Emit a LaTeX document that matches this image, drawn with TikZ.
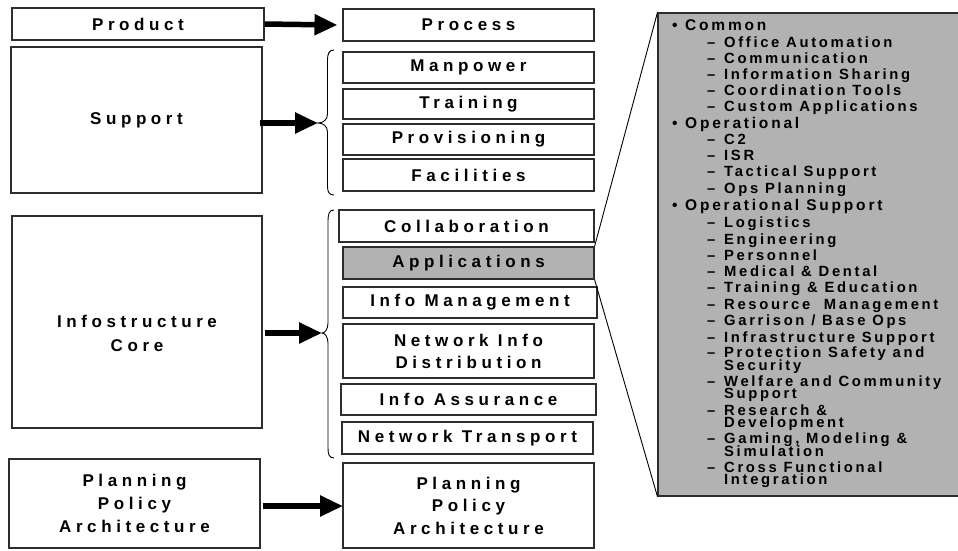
\documentclass[tikz,border=0pt]{standalone}
\usepackage{fontspec}
\setmainfont{Liberation Sans}
\newfontfamily\boxfont{Liberation Sans}[LetterSpace=27]
\newfontfamily\listfont{Liberation Sans}[LetterSpace=18]
\usetikzlibrary{arrows.meta}

\definecolor{panelgray}{RGB}{178,178,178}
\definecolor{edge}{RGB}{45,45,45}

\begin{document}
\begin{tikzpicture}[x=1pt,y=-1pt,
  box/.style={draw=edge, line width=1.1pt, fill=white, inner sep=0pt,
    align=center, font={\boxfont\fontsize{17}{23}\selectfont\bfseries}},
  shaded/.style={box, fill=panelgray},
  boxtext/.style={inner sep=0pt, align=center,
    font={\boxfont\fontsize{17}{24}\selectfont\bfseries}},
  bigarrow/.style={line width=5.5pt, -{Triangle[length=23pt,width=20pt]}},
  bracket/.style={line width=0.9pt, black},
  link/.style={line width=0.9pt, black},
  top/.style={anchor=base west, inner sep=0pt,
    font={\listfont\fontsize{15.5}{15}\selectfont\bfseries}},
  sub/.style={anchor=base west, inner sep=0pt,
    font={\listfont\fontsize{14.8}{14}\selectfont\bfseries}}]
\useasboundingbox (0,0) rectangle (958,550);

% left column
\node[box, minimum width=252pt, minimum height=32pt] (product) at (138,24) {Product};
\node[box, minimum width=251pt, minimum height=146pt] (support) at (136.5,120) {Support};
\node[box, minimum width=250pt, minimum height=212pt] (infra) at (137,322) {};
\node[boxtext] (infratext) at (137,333.5) {Infostructure\\Core};
\node[box, minimum width=251pt, minimum height=89pt] (planL) at (134.5,503.5) {Planning\\Policy\\Architecture};

% middle column
\node[box, minimum width=251pt, minimum height=32pt] (process) at (468.5,25) {Process};
\node[box, minimum width=251pt, minimum height=31pt] (manpower) at (468.5,67.5) {Manpower};
\node[box, minimum width=251pt, minimum height=30pt] (training) at (468.5,104) {Training};
\node[box, minimum width=251pt, minimum height=31pt] (provisioning) at (468.5,139.5) {Provisioning};
\node[box, minimum width=251pt, minimum height=32pt] (facilities) at (468.5,175) {Facilities};
\node[box, minimum width=255pt, minimum height=32pt] (collab) at (466.5,226) {Collaboration};
\node[shaded, minimum width=251pt, minimum height=32pt] (apps) at (468.5,263) {Applications};
\node[box, minimum width=254pt, minimum height=31pt] (infomgmt) at (470,302.5) {Info Management};
\node[box, minimum width=251pt, minimum height=54pt, font={\boxfont\fontsize{17}{22}\selectfont\bfseries}] (netinfo) at (468.5,351) {Network Info\\Distribution};
\node[box, minimum width=255pt, minimum height=31pt] (assurance) at (468.5,399.5) {Info Assurance};
\node[box, minimum width=251pt, minimum height=32pt] (transport) at (467.5,438) {Network Transport};
\node[box, minimum width=251pt, minimum height=85pt, font={\boxfont\fontsize{17}{22.5}\selectfont\bfseries}] (planR) at (468.5,505.5) {Planning\\Policy\\Architecture};

% curly brackets grouping the middle boxes
\coordinate (tipA) at (318,123);
\coordinate (tipB) at (322,333);
\coordinate (tipC) at (343,506);
\draw[bracket] (334,50) .. controls (329,50) and (327.5,54) .. (327.5,60)
  -- (327.5,114) .. controls (327.5,120) and (323,123) .. (tipA)
  .. controls (323,123) and (327.5,126) .. (327.5,132)
  -- (327.5,186) .. controls (327.5,192) and (329,195) .. (334,195);
\draw[bracket] (334,210) .. controls (329,210) and (328,214) .. (328,222)
  -- (328,323) .. controls (328,329) and (325,333) .. (tipB)
  .. controls (325,333) and (328,337) .. (328,343)
  -- (328,448) .. controls (328,454) and (329,458) .. (334,458);

% arrows
\draw[bigarrow] (product.east) -- ([xshift=-5pt]process.west);
\draw[bigarrow] (support.east |- tipA) ++(-3,0) -- (tipA);
\draw[bigarrow] (infra.east |- tipB) ++(2,0) -- (tipB);
\draw[bigarrow] (planL.east |- tipC) ++(2,0) -- (tipC);

% detail panel for the applications
\node[draw=edge, line width=1.1pt, fill=panelgray, minimum width=306pt, minimum height=483pt, inner sep=0pt] (panel) at (811,254.5) {};
\draw[link] (apps.north east) -- (panel.north west);
\draw[link] (apps.south east) -- (panel.south west);

% application list
\node[top] (c0) at (672,30.5) {\makebox[13pt][l]{•}Common};
\node[sub] (c1) at (707,47) {\makebox[17pt][l]{–}Office Automation};
\node[sub] (c2) at (707,63) {\makebox[17pt][l]{–}Communication};
\node[sub] (c3) at (707,79) {\makebox[17pt][l]{–}Information Sharing};
\node[sub] (c4) at (707,95) {\makebox[17pt][l]{–}Coordination Tools};
\node[sub] (c5) at (707,111) {\makebox[17pt][l]{–}Custom Applications};
\node[top] (o0) at (672,128) {\makebox[13pt][l]{•}Operational};
\node[sub] (o1) at (707,144) {\makebox[17pt][l]{–}C2};
\node[sub] (o2) at (707,160) {\makebox[17pt][l]{–}ISR};
\node[sub] (o3) at (707,176.5) {\makebox[17pt][l]{–}Tactical Support};
\node[sub] (o4) at (707,193) {\makebox[17pt][l]{–}Ops Planning};
\node[top] (s0) at (672,210) {\makebox[13pt][l]{•}Operational Support};
\node[sub] (s1) at (707,227) {\makebox[17pt][l]{–}Logistics};
\node[sub] (s2) at (707,244) {\makebox[17pt][l]{–}Engineering};
\node[sub] (s3) at (707,260) {\makebox[17pt][l]{–}Personnel};
\node[sub] (s4) at (707,276) {\makebox[17pt][l]{–}Medical \& Dental};
\node[sub] (s5) at (707,292) {\makebox[17pt][l]{–}Training \& Education};
\node[sub] (s6) at (707,309) {\makebox[17pt][l]{–}Resource \ Management};
\node[sub] (s7) at (707,325.5) {\makebox[17pt][l]{–}Garrison / Base Ops};
\node[sub] (s8) at (707,342) {\makebox[17pt][l]{–}Infrastructure Support};
\node[sub] (s9) at (707,357.5) {\makebox[17pt][l]{–}Protection Safety and};
\node[sub] (s9b) at (724,370) {Security};
\node[sub] (s10) at (707,386.5) {\makebox[17pt][l]{–}Welfare and Community};
\node[sub] (s10b) at (724,398.5) {Support};
\node[sub] (s11) at (707,415) {\makebox[17pt][l]{–}Research \&};
\node[sub] (s11b) at (724,427.5) {Development};
\node[sub] (s12) at (707,443.5) {\makebox[17pt][l]{–}Gaming, Modeling \&};
\node[sub] (s12b) at (724,456) {Simulation};
\node[sub] (s13) at (707,472) {\makebox[17pt][l]{–}Cross Functional};
\node[sub] (s13b) at (724,484.5) {Integration};
\end{tikzpicture}
\end{document}
